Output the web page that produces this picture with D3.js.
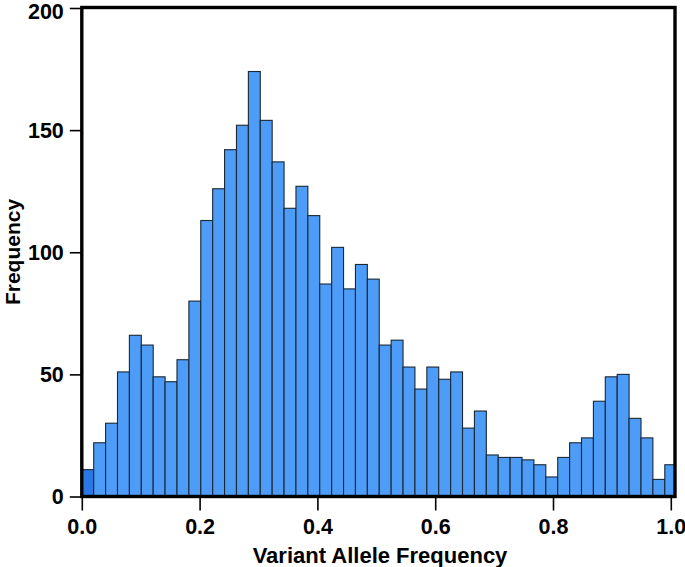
<!DOCTYPE html>
<html>
<head>
<meta charset="utf-8">
<script src="https://cdn.jsdelivr.net/npm/d3@7"></script>
<style>
  html, body { margin: 0; padding: 0; background: #fff; }
  svg { display: block; }
  text { font-family: "Liberation Sans", Arial, Helvetica, sans-serif; font-weight: bold; fill: #000; }
</style>
</head>
<body>
<svg id="chart" width="685" height="567"></svg>
<script>
// Histogram of variant allele frequency, bin width ~0.0202 starting at 0
const binStart = 0;
const binWidth = 0.0202;
const counts = [11, 22, 30, 51, 66, 62, 49, 47, 56, 80,
                113, 126, 142, 152, 174, 154, 137, 118, 127, 115,
                87, 102, 85, 95, 89, 62, 64, 53, 44, 53,
                48, 51, 28, 35, 17, 16, 16, 15, 13, 8,
                16, 22, 24, 39, 49, 50, 32, 24, 7, 13];
const xTicks = [0.0, 0.2, 0.4, 0.6, 0.8, 1.0];
const yTicks = [0, 50, 100, 150, 200];
const xTitle = "Variant Allele Frequency";
const yTitle = "Frequency";

const svg = d3.select("#chart");
const pLeft = 81.8, pRight = 675, pTop = 7.5, pBottom = 496.5;

const x = d3.scaleLinear().domain([0, 1]).range([pLeft, pLeft + 589]);
const y = d3.scaleLinear().domain([0, 200]).range([pBottom, pTop + 0.5]);

const bins = counts.map((c, i) => ({ x0: binStart + i * binWidth, x1: binStart + (i + 1) * binWidth, c, i }));

svg.append("defs").append("clipPath").attr("id", "clip")
  .append("rect").attr("x", pLeft).attr("y", pTop).attr("width", pRight - pLeft).attr("height", pBottom - pTop);

svg.append("g").attr("clip-path", "url(#clip)")
  .selectAll("rect").data(bins).join("rect")
  .attr("x", d => x(d.x0))
  .attr("y", d => y(d.c))
  .attr("width", d => x(d.x1) - x(d.x0))
  .attr("height", d => y(0) - y(d.c))
  .attr("fill", d => d.i === 0 ? "#2a78e6" : "#4d9cf8")
  .attr("stroke", "#1b2733")
  .attr("stroke-width", 1.1);

// Axes
const xAxis = d3.axisBottom(x).tickValues(xTicks).tickFormat(d3.format(".1f")).tickSize(14).tickPadding(8);
const gx = svg.append("g").attr("transform", `translate(0,${pBottom})`).call(xAxis);
gx.select(".domain").remove();
gx.selectAll(".tick line").attr("stroke", "#000").attr("stroke-width", 1.6);
gx.selectAll(".tick text").style("font-size", "21.5px").style("font-weight", "bold").attr("font-family", null);

const yAxis = d3.axisLeft(y).tickValues(yTicks).tickSize(12).tickPadding(6);
const gy = svg.append("g").attr("transform", `translate(${pLeft},0)`).call(yAxis);
gy.select(".domain").remove();
gy.selectAll(".tick line").attr("stroke", "#000").attr("stroke-width", 1.6);
gy.selectAll(".tick text").style("font-size", "21.5px").style("font-weight", "bold").attr("font-family", null);
// keep the top label inside the picture
gy.selectAll(".tick").filter(d => d === 200).select("text").attr("dy", "0.48em");

// Frame
svg.append("rect")
  .attr("x", pLeft).attr("y", pTop)
  .attr("width", pRight - pLeft).attr("height", pBottom - pTop)
  .attr("fill", "none").attr("stroke", "#000").attr("stroke-width", 3.4);

// Titles
svg.append("text")
  .attr("x", 380).attr("y", 563)
  .attr("text-anchor", "middle")
  .style("font-size", "22px")
  .text(xTitle);

svg.append("text")
  .attr("transform", `translate(20,${(pTop + pBottom) / 2}) rotate(-90)`)
  .attr("text-anchor", "middle")
  .style("font-size", "21px")
  .text(yTitle);
</script>
</body>
</html>
